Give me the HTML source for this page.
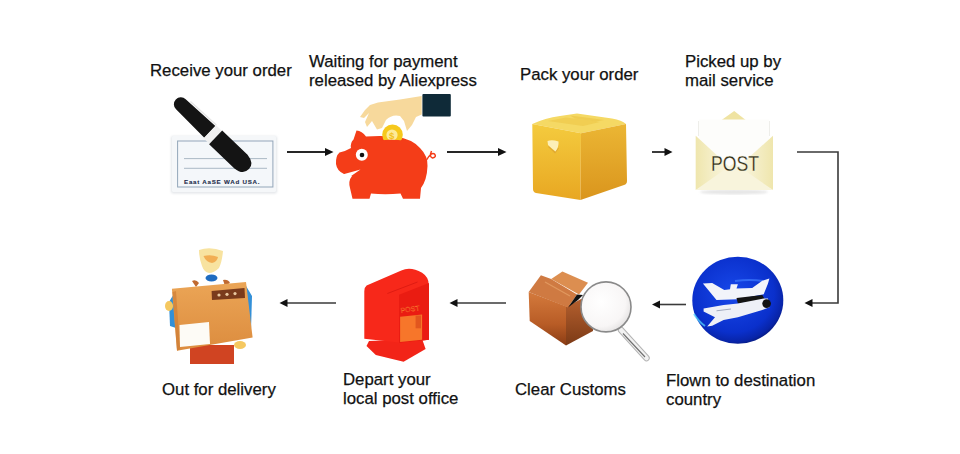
<!DOCTYPE html>
<html><head><meta charset="utf-8">
<style>
html,body{margin:0;padding:0;background:#fff;}
body{width:960px;height:454px;position:relative;overflow:hidden;}
.t{position:absolute;font-family:"Liberation Sans",sans-serif;font-size:16.8px;line-height:19px;color:#111;white-space:nowrap;-webkit-text-stroke:0.25px #111;}
svg{position:absolute;left:0;top:0;}
</style></head><body>
<svg width="960" height="454" viewBox="0 0 960 454">
<defs>
<filter id="blur1" x="-20%" y="-20%" width="140%" height="140%"><feGaussianBlur stdDeviation="1.2"/></filter>
<filter id="b05" x="-10%" y="-10%" width="120%" height="120%"><feGaussianBlur stdDeviation="0.5"/></filter>
<filter id="b08" x="-10%" y="-10%" width="120%" height="120%"><feGaussianBlur stdDeviation="0.8"/></filter>
<linearGradient id="boxL" x1="0" y1="0" x2="0" y2="1"><stop offset="0" stop-color="#f4cb3e"/><stop offset="1" stop-color="#e8a722"/></linearGradient>
<linearGradient id="boxR" x1="0" y1="0" x2="0" y2="1"><stop offset="0" stop-color="#ebb634"/><stop offset="1" stop-color="#da951d"/></linearGradient>
<radialGradient id="globe" cx="0.45" cy="0.42" r="0.6"><stop offset="0" stop-color="#1848ea"/><stop offset="0.75" stop-color="#0a30cc"/><stop offset="0.93" stop-color="#0824a8"/><stop offset="1" stop-color="#061a80"/></radialGradient>
<linearGradient id="copL" x1="0" y1="0" x2="0" y2="1"><stop offset="0" stop-color="#d47a3c"/><stop offset="0.6" stop-color="#b85c26"/><stop offset="1" stop-color="#8a3c14"/></linearGradient>
<radialGradient id="lens" cx="0.4" cy="0.4" r="0.65"><stop offset="0" stop-color="#ffffff"/><stop offset="0.75" stop-color="#f8f6f6"/><stop offset="1" stop-color="#e4e2e2"/></radialGradient>
<linearGradient id="envL" x1="0" y1="0" x2="1" y2="0"><stop offset="0" stop-color="#efe6ad"/><stop offset="1" stop-color="#fbf8e8"/></linearGradient>
<linearGradient id="envR" x1="1" y1="0" x2="0" y2="0"><stop offset="0" stop-color="#efe6ad"/><stop offset="1" stop-color="#fbf8e8"/></linearGradient>
<linearGradient id="dbox" x1="0" y1="0" x2="0" y2="1"><stop offset="0" stop-color="#eba556"/><stop offset="1" stop-color="#dc8c3e"/></linearGradient>
</defs>
<!-- ICON 1: cheque + pen -->
<rect x="171" y="136" width="106" height="57.5" rx="2" fill="#e3e6ea" filter="url(#blur1)"/>
<rect x="172" y="136" width="104" height="56" rx="1.5" fill="#f5f7f9"/>
<rect x="177.6" y="141" width="95.3" height="46" fill="#f4f7fa" stroke="#93a6b9" stroke-width="1"/>
<line x1="184" y1="158.6" x2="267" y2="158.6" stroke="#a3b1c0" stroke-width="0.9"/>
<line x1="184" y1="168.3" x2="267" y2="168.3" stroke="#a3b1c0" stroke-width="0.9"/>
<text x="184" y="183.5" font-family="Liberation Sans" font-weight="bold" font-size="6.2" fill="#1d2b4a" letter-spacing="0.75" stroke="#1d2b4a" stroke-width="0.1">Eaat AaSE WAd USA.</text>
<g transform="translate(178.7,102.2) rotate(43.6)">
  <path d="M3,-7 L43,-8 L43,8 L3,7 A7,7 0 0 1 3,-7 Z" fill="#141414"/>
  <path d="M8,-8.6 L43,-9.4" stroke="#e4e4e4" stroke-width="1.3" fill="none"/>
  <rect x="43" y="-9" width="8" height="18" fill="#f0f0f0"/>
  <path d="M51,-9.5 L86,-9.5 Q97,-8 97,0 Q97,8.5 86,9.5 L51,9.5 Z" fill="#141414"/>
</g>
<!-- ICON 2: pig -->
<path d="M421.7,96 L400,99.5 L378,102.5 L370,105 L365,110 L360,117 L364,118 L369,113 L365,122 L367,127 L372,121 L377,129.5 L382,128 L386,120 Q392,114 400,116 L404,121 L407,131 L412,125 L416,117 L421.7,114.5 Z" fill="#f7d99c"/>
<rect x="422.4" y="94" width="28.4" height="22.4" rx="1" fill="#0f2a38"/>
<path d="M353.5,139.5 L356.5,130.5 Q362,131 366,136.5 Q382,135.5 396,136.8 Q412,139 420,148 Q428,156 427.5,166 Q427,180 421,188 L420,198.7 L403,198.7 L400.5,193.5 Q385,195 371,193.5 L369.5,198.7 L352.5,198.7 L350,188 Q348,181 352,176 L344,174 Q337,171 336,164 Q335.5,156 339.5,152.5 Q346,151 351,148 Q350,143 353.5,139.5 Z" fill="#f43d18"/>
<circle cx="392.5" cy="134.8" r="10.3" fill="#f6c81c"/>
<circle cx="392" cy="135" r="5.6" fill="#fdeb98"/>
<text x="389" y="139" font-family="Liberation Sans" font-size="9.5" font-weight="bold" fill="#f3c020">$</text>
<path d="M380,140.5 Q392,139 406,141 L406,147 L380,147 Z" fill="#f43d18"/>
<path d="M342.5,174.5 L360.5,169.5 L347.5,178.5 Z" fill="#fff"/>
<circle cx="361.8" cy="154.8" r="6" fill="#fff"/>
<circle cx="362" cy="155" r="2.3" fill="#111"/>
<path d="M426.5,160 Q431,152 434.5,154 Q437,157 432.5,158 Q429,157 431.5,151" stroke="#f43d18" stroke-width="1.5" fill="none"/>
<!-- ICON 3: box -->
<path d="M532.3,124 Q545,118 560,116 L577,113.5 L612,118.5 Q622,120 626,124 L581,133.3 Z" fill="#f5d964"/>
<path d="M548,121 L566,117.5 L600,122 L583,126 Z" fill="#ecc444" opacity="0.55"/>
<path d="M570,115.5 L582,117 L604,120 L596,121.5 L575,118.5 Z" fill="#e9bf3c" opacity="0.5"/>
<path d="M532.3,124 L581,133.3 L580.5,200 L536,193 Q533,192 533,189 Z" fill="url(#boxL)"/>
<path d="M581,133.3 L626,124 L627,181 Q627,184 624,185 L580.5,200 Z" fill="url(#boxR)"/>
<path d="M548.5,146.5 L555,152.5 L558.5,148" stroke="#d9a030" stroke-width="1.2" fill="none" opacity="0.7"/>
<path d="M547.5,141 Q552,139.5 558.5,141.5 Q559,147 555.5,151.5 Q551,148 548,145 Z" fill="#fcefb8"/>
<!-- ICON 4: envelope -->
<ellipse cx="734" cy="192" rx="34" ry="2.5" fill="#e6e6e6" filter="url(#b08)"/>
<polygon points="721.6,120 734.2,111 745.7,120" fill="#efe3a2"/>
<rect x="699" y="119.5" width="70" height="52" fill="#fdfdfb"/>
<line x1="698.5" y1="121" x2="698.5" y2="136" stroke="#eeeeea" stroke-width="1"/>
<line x1="769.5" y1="121" x2="769.5" y2="136" stroke="#eeeeea" stroke-width="1"/>
<polygon points="695.7,135.7 733,170 695.7,190" fill="url(#envL)"/>
<polygon points="773,135.7 735,170 773,190" fill="url(#envR)"/>
<polygon points="695.7,190 734,163 773,190" fill="#f8f4dc"/>
<text x="711" y="171" font-family="Liberation Sans" font-size="22" fill="#2a2816" stroke="#f6f2dc" stroke-width="0.3" transform="translate(711,171) scale(0.8,1) translate(-711,-171)">POST</text>
<!-- ICON 5: plane globe -->
<ellipse cx="737.8" cy="300.2" rx="45.5" ry="43.5" fill="url(#globe)"/>
<path d="M735,281 Q750,279 763,281" stroke="#3f7cff" stroke-width="2" fill="none" opacity="0.7"/>
<path d="M694,314 Q699,322 705,326" stroke="#52d0ff" stroke-width="2" fill="none" opacity="0.75"/>
<polygon points="702.9,283.6 712.2,282.9 724.3,290 730,289.3 730.8,284.3 737.9,284.3 736.5,288.6 752.2,287.9 762.3,280.7 769.4,278.6 768,283.6 763.7,294.3 737.9,299.3 716.5,300" fill="#f2f4fa"/>
<polygon points="736.5,297.9 762.3,295 765.1,300 737.9,303.6" fill="#141414"/>
<polygon points="703.6,308.6 723.6,305 737.9,303.6 763.7,298.6 768,298.6 769.4,307.2 762.3,310 737.9,317.2 723.6,320 712.2,325.8 707.2,326.5 715,317.2 703.6,311.5" fill="#eef0f7"/>
<path d="M716.5,310.8 L731,309" stroke="#9aa3b8" stroke-width="0.9"/>
<circle cx="766.6" cy="303.6" r="4.3" fill="#111"/>
<!-- ICON 6: customs box -->
<linearGradient id="copR" x1="0" y1="0" x2="0" y2="1"><stop offset="0" stop-color="#b86230"/><stop offset="1" stop-color="#7c3a16"/></linearGradient>
<polygon points="528.7,292.1 568,307 566,345.4 529.7,321.1" fill="url(#copL)"/>
<polygon points="566,307 581,299 594,296 593,331 566,345.4" fill="url(#copR)"/>
<polygon points="540.9,275.3 551.2,279 577,294.5 568,307.5 528.7,292.1" fill="#cf7a42"/>
<polygon points="551.2,279 562.4,271.5 588,282.8 579,294.5" fill="#dc8e50"/>
<path d="M545,282 L570,296" stroke="#e8a46a" stroke-width="1.2" opacity="0.7"/>
<polygon points="568,307.5 577,294.5 583,295 578,300" fill="#111"/>
<line x1="621" y1="330" x2="646.5" y2="358" stroke="#b4b4b4" stroke-width="6.5" stroke-linecap="round"/>
<line x1="621" y1="330" x2="646.5" y2="358" stroke="#f2f2f2" stroke-width="4.5" stroke-linecap="round"/>
<line x1="623" y1="333.5" x2="645" y2="357" stroke="#6e6e6e" stroke-width="1.1"/>
<circle cx="606" cy="306.9" r="25" fill="url(#lens)" stroke="#8a8a8a" stroke-width="1.6"/>
<!-- ICON 7: post box -->
<path d="M366.5,346 L369,341 L422.1,339 L425.6,349.1 L403.6,361.8 L375.8,354.9 Z" fill="#f22418"/>
<path d="M364.3,291.2 Q364.5,287 366.6,285.5 L401.3,270.4 Q410.5,266 422.1,272.7 Q428.6,277 428.6,284 L429,339.8 L403,343 L364.3,338.7 Z" fill="#f7281a"/>
<path d="M399,294.7 L429,283.1 L429,339.8 L399,343 Z" fill="#ea1c12"/>
<polygon points="400.1,316.7 422.1,314.4 422.1,339.8 400.1,342.1" fill="#f7762a"/>
<rect x="415.6" y="315.5" width="5.4" height="12.8" fill="#e2561e"/>
<line x1="387.4" y1="293.5" x2="417.5" y2="282" stroke="#d81810" stroke-width="0.8"/>
<text x="401" y="313" font-family="Liberation Sans" font-size="7" fill="none" stroke="#f7702a" stroke-width="0.35" transform="rotate(-8 401 313)">POST</text>
<!-- ICON 8: delivery man -->
<path d="M199,250 Q210,246 223,251 Q222,262 219,268 Q214,273 209,273 Q204,272 202,266 Q199,258 199,250 Z" fill="#f8e3a0"/>
<path d="M203.5,256 Q211,254 218,257 Q217,262 212,263 Q206,262 203.5,256 Z" fill="#f0a040" opacity="0.8"/>
<ellipse cx="211.5" cy="278" rx="6" ry="3.5" fill="#1f6cc0"/>
<path d="M192,281 Q196,279 199,283 L196,287 Z" fill="#c06a30"/>
<path d="M223,280 Q228,279 230,283 L225,286 Z" fill="#c06a30"/>
<path d="M169,302 L175,292 L176,328 L170,326 Z" fill="#3390d8"/>
<path d="M246,286 L252,296 L251,330 L247,332 Z" fill="#3390d8"/>
<rect x="190" y="345" width="44" height="19" fill="#d04422"/>
<polygon points="171.9,288.7 246,282 252.6,337.6 177,350.8" fill="url(#dbox)"/>
<polygon points="172.5,292 176,291 180,349 177,350.8" fill="#cf7d36" opacity="0.7"/>
<polygon points="179.5,325 209,322 210,344 180,347" fill="#fdfbf6"/>
<polygon points="211.6,291 244.5,288 245,298 212,300" fill="#7a3b1c"/>
<g fill="#e8c8a0"><circle cx="219" cy="295" r="1.6"/><circle cx="227" cy="294.3" r="1.6"/><circle cx="235" cy="293.6" r="1.6"/></g>
<ellipse cx="169" cy="306" rx="4" ry="5" fill="#f5c860"/>
<ellipse cx="240" cy="345" rx="6" ry="4" fill="#f5c860"/>

<g stroke="#262626" stroke-width="1.8" fill="none">
<line x1="287" y1="152" x2="326" y2="152"/>
<line x1="447" y1="152" x2="499" y2="152"/>
<line x1="652" y1="152" x2="666" y2="152"/>
</g>
<g stroke="#3a3a3a" stroke-width="1.6" fill="none">
<polyline points="797,152 838,152 838,303 811,303"/>
<line x1="659" y1="304.5" x2="686" y2="304.5"/>
<line x1="457" y1="303" x2="506" y2="303"/>
<line x1="287" y1="303" x2="336" y2="303"/>
</g>
<g fill="#111">
<polygon points="325,148 333.5,152 325,156"/>
<polygon points="498,148 506.5,152 498,156"/>
<polygon points="664.5,148 672.5,152 664.5,156"/>
<polygon points="812.5,299 804.5,303 812.5,307"/>
<polygon points="660,300.5 652,304.5 660,308.5"/>
<polygon points="457.5,299 449.5,303 457.5,307"/>
<polygon points="287.5,299 279.5,303 287.5,307"/>
</g>
</svg>
<div class="t" style="left:150px;top:60.6px">Receive your order</div>
<div class="t" style="left:309px;top:52.1px">Waiting for payment<br>released by Aliexpress</div>
<div class="t" style="left:520px;top:64.6px">Pack your order</div>
<div class="t" style="left:685px;top:52.1px">Picked up by<br>mail service</div>
<div class="t" style="left:162px;top:379.6px">Out for delivery</div>
<div class="t" style="left:343px;top:370.1px">Depart your<br>local post office</div>
<div class="t" style="left:515px;top:379.6px">Clear Customs</div>
<div class="t" style="left:666px;top:371.1px">Flown to destination<br>country</div>
</body></html>
